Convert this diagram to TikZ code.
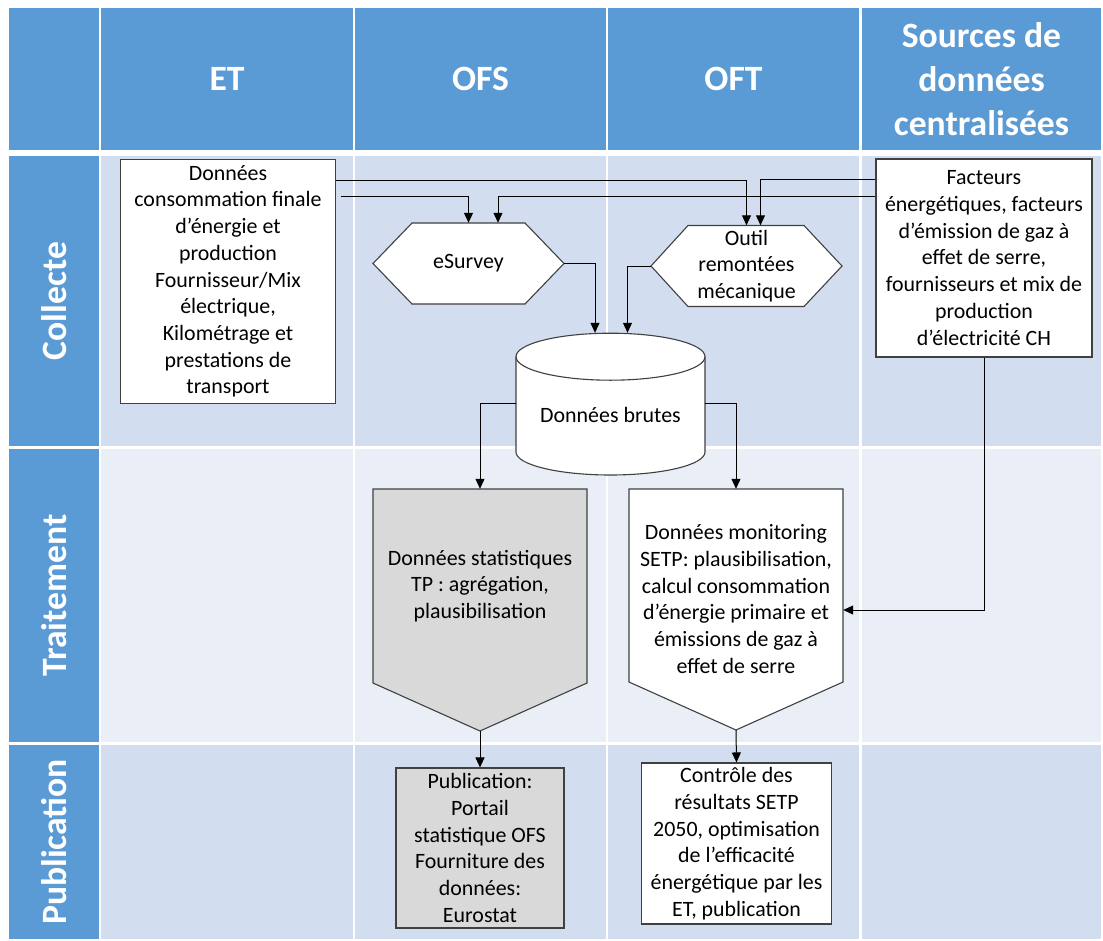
\documentclass[tikz,border=0pt]{standalone}
\usepackage{fontspec}
\setmainfont{Carlito}
\usetikzlibrary{arrows.meta}
\definecolor{hdblue}{HTML}{5B9BD5}
\definecolor{rowdark}{HTML}{D2DEEF}
\definecolor{rowlight}{HTML}{EAEFF7}
\definecolor{boxgray}{HTML}{D9D9D9}
\definecolor{edge}{HTML}{404040}

\begin{document}
\begin{tikzpicture}[x=1pt,y=-1pt,
databox/.style={draw=edge,line width=1.1pt,fill=white,align=center,inner sep=1pt,font=\fontsize{21.9}{26.7}\selectfont},
shapetext/.style={align=center,inner sep=1pt,font=\fontsize{21.9}{26.7}\selectfont},
shapeline/.style={draw=edge,line width=1.1pt},
headtext/.style={text=white,align=center,font=\fontsize{35.6}{44}\selectfont\bfseries},
flow/.style={line width=1pt,-{Triangle[width=9pt,length=10pt]}},
gapline/.style={white,line width=2.2pt}]
\useasboundingbox (0,0) rectangle (1103,940);

\fill[hdblue] (9,8) rectangle (1101,150);
\fill[rowdark] (9,156) rectangle (1101,446);
\fill[rowlight] (9,449) rectangle (1101,742);
\fill[rowdark] (9,745) rectangle (1101,939);
\fill[hdblue] (9,156) rectangle (100,446);
\fill[hdblue] (9,449) rectangle (100,742);
\fill[hdblue] (9,745) rectangle (100,939);
\draw[gapline] (100,8) -- (100,939);
\draw[gapline] (354,8) -- (354,939);
\draw[gapline] (607,8) -- (607,939);
\draw[gapline] (860.5,8) -- (860.5,939);

\node[headtext] (hdet) at (227,79) {ET};
\node[headtext] (hdofs) at (480.5,79) {OFS};
\node[headtext] (hdoft) at (733.5,79) {OFT};
\node[headtext] (hdsrc) at (981.5,79) {Sources de\\données\\centralisées};
\node[headtext,rotate=90] (rowcoll) at (54,301) {Collecte};
\node[headtext,rotate=90] (rowtrait) at (54,595.5) {Traitement};
\node[headtext,rotate=90] (rowpub) at (54,842) {Publication};

\node[databox,minimum width=214.5pt,minimum height=244pt] (etbox) at (228,281.3) {Données\\consommation finale\\d’énergie et\\production\\Fournisseur/Mix\\électrique,\\Kilométrage et\\prestations de\\transport};
\node[databox,minimum width=216pt,minimum height=198pt] (sources) at (984,258) {Facteurs\\énergétiques, facteurs\\d’émission de gaz à\\effet de serre,\\fournisseurs et mix de\\production\\d’électricité CH};

\draw[shapeline,fill=white] (373,263.5) -- (412,223) -- (525,223) -- (564,263.5) -- (525,304) -- (412,304) -- cycle;
\node[shapetext,minimum width=191pt,minimum height=81pt] (esurvey) at (468.5,263.5) {eSurvey};
\draw[shapeline,fill=white] (651,266) -- (688,225.5) -- (804,225.5) -- (842,266) -- (804,306.5) -- (688,306.5) -- cycle;
\node[shapetext,minimum width=191pt,minimum height=81pt] (outil) at (746.5,266) {Outil\\remontées\\mécanique};

\draw[shapeline,fill=white] (516,356.7) -- (516,452) arc[start angle=180,end angle=360,x radius=94.5pt,y radius=23pt] -- (705,356.7) arc[start angle=0,end angle=180,x radius=94.5pt,y radius=23.5pt] -- cycle;
\draw[shapeline] (516,356.7) arc[start angle=180,end angle=360,x radius=94.5pt,y radius=23.5pt];
\node[shapetext,minimum width=189pt,minimum height=164pt] (brutes) at (610.5,415) {Données brutes};

\draw[shapeline,fill=boxgray] (373,489) -- (587,489) -- (587,683) -- (480,731) -- (373,683) -- cycle;
\node[shapetext,minimum width=214pt,minimum height=194pt] (stat) at (480,586) {Données statistiques\\TP : agrégation,\\plausibilisation};
\coordinate (stattip) at (480,731);
\draw[shapeline,fill=white] (629,489) -- (843,489) -- (843,682) -- (736,730) -- (629,682) -- cycle;
\node[shapetext,minimum width=214pt,minimum height=220pt] (monit) at (736,599) {Données monitoring\\SETP: plausibilisation,\\calcul consommation\\d’énergie primaire et\\émissions de gaz à\\effet de serre};
\coordinate (monittip) at (736,730);

\node[databox,fill=boxgray,minimum width=168pt,minimum height=160pt] (pubofs) at (480,848) {Publication:\\Portail\\statistique OFS\\Fourniture des\\données:\\Eurostat};
\node[databox,minimum width=190pt,minimum height=161pt] (controle) at (736.5,843.5) {Contrôle des\\résultats SETP\\2050, optimisation\\de l’efficacité\\énergétique par les\\ET, publication};

\draw[flow] ([yshift=-21.5pt]etbox.north east) -| (outil.north);
\draw[flow] ([xshift=5pt,yshift=-38pt]etbox.north east) -| (esurvey.north);
\draw[flow] ([yshift=-21.5pt]sources.north west) -| ([xshift=14pt]outil.north);
\draw[flow] ([yshift=-38pt]sources.north west) -| ([xshift=29.5pt]esurvey.north);
\draw[flow] (esurvey.east) -| ([xshift=-15.5pt]brutes.north);
\draw[flow] (outil.west) -| ([xshift=17pt]brutes.north);
\draw[flow] ([yshift=12pt]brutes.west) -| (stat.north);
\draw[flow] ([yshift=12pt]brutes.east) -| (monit.north);
\draw[flow] (sources.south) |- ([yshift=-11pt]monit.east);
\draw[flow] (stattip) -- (pubofs.north);
\draw[flow] (monittip) -- (controle.north);
\end{tikzpicture}
\end{document}
